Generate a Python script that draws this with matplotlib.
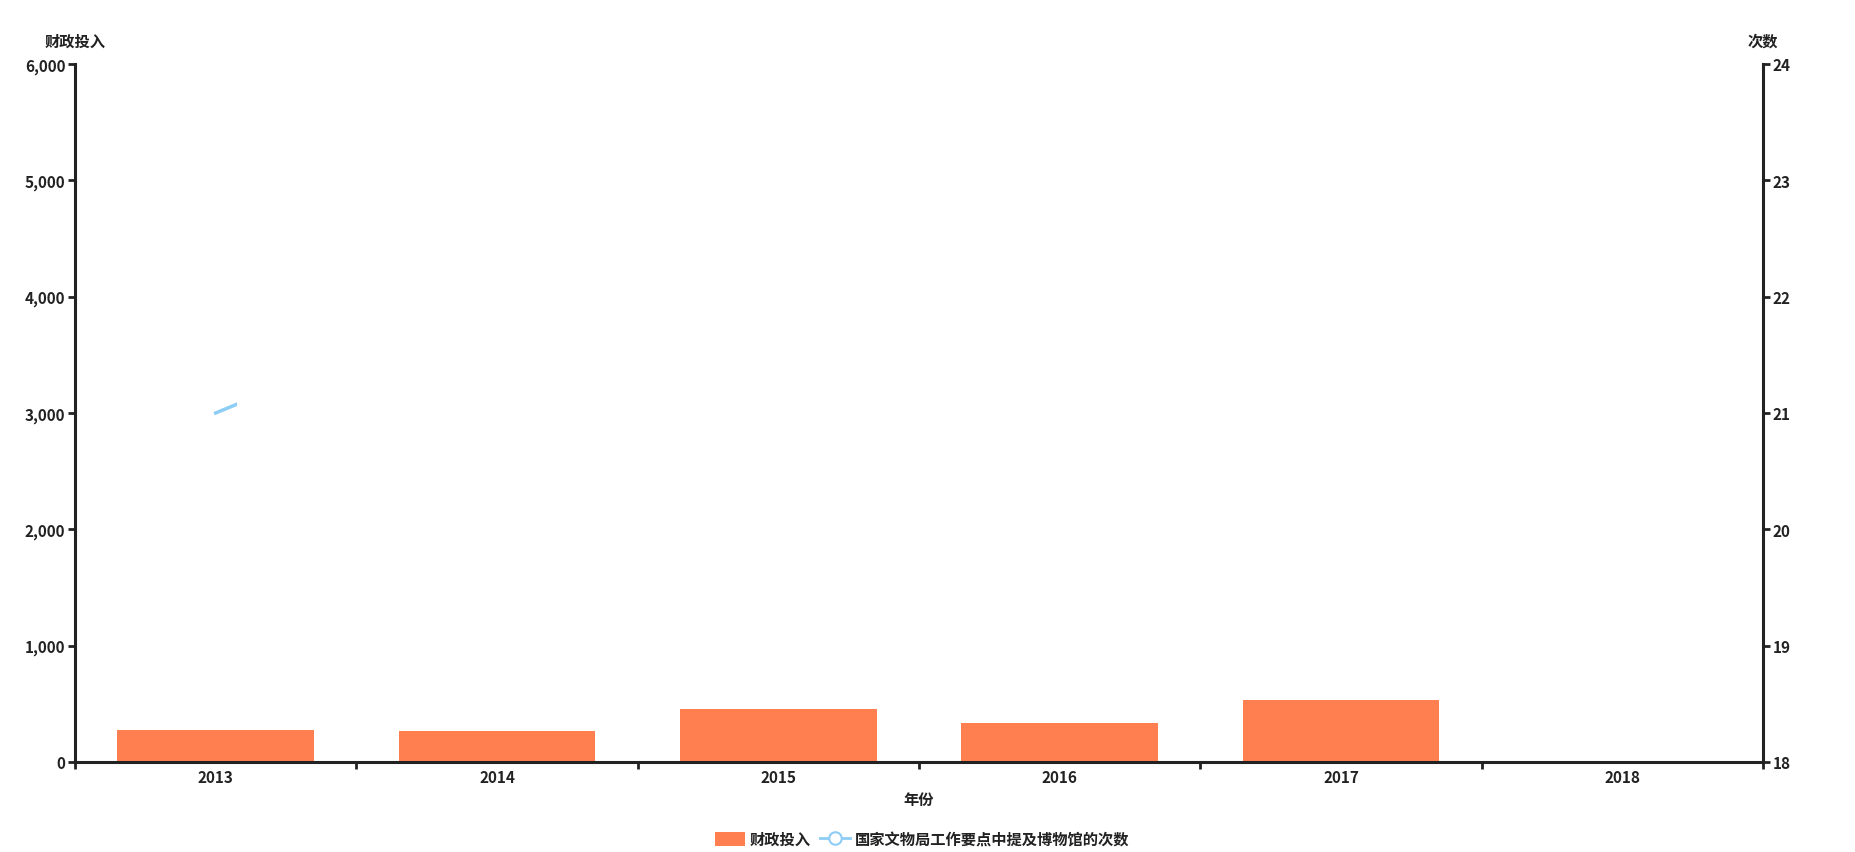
import matplotlib
matplotlib.use("Agg")
import matplotlib.pyplot as plt
from matplotlib.patches import Rectangle
from matplotlib.lines import Line2D
import matplotlib.ticker as mticker

plt.rcParams['font.family'] = ['Noto Sans CJK SC', 'DejaVu Sans']

years = ['2013', '2014', '2015', '2016', '2017', '2018']
funding = [272, 266, 458, 338, 530, 0]
# line series (only the first segment is partly drawn in the reference)
mentions = [21, 22, None, None, None, None]
line_visible_fraction = 0.075

bar_color = '#ff7f50'
line_color = '#8ecdf5'
axis_color = '#222222'
fs = 11

fig = plt.figure(figsize=(18.55, 8.53), dpi=100)
ax = fig.add_axes([75/1855, 90/853, (1763-75)/1855, (763-65)/853])
ax2 = ax.twinx()

x = list(range(len(years)))
ax.bar(x, funding, width=0.7, color=bar_color, zorder=2)
ax.set_xlim(-0.5, len(years) - 0.5)
ax.set_ylim(0, 6000)
ax.set_yticks(range(0, 6001, 1000))
ax.yaxis.set_major_formatter(mticker.FuncFormatter(lambda v, p: f'{int(v):,}'))
ax.set_xticks(x)
ax.set_xticklabels(years)
ax.set_xticks([i + 0.5 for i in range(-1, len(years))], minor=True)

ax2.set_ylim(18, 24)
ax2.set_yticks(range(18, 25))

xs = [i for i, v in enumerate(mentions) if v is not None]
ys = [v for v in mentions if v is not None]
ln, = ax2.plot(xs, ys, color=line_color, linewidth=2.5, zorder=3)
clip = Rectangle((-0.5, 18), 0.5 + line_visible_fraction, 6, transform=ax2.transData)
ln.set_clip_path(clip)

for a in (ax, ax2):
    for s in a.spines.values():
        s.set_visible(False)
    a.set_facecolor('none')
ax.spines['left'].set_visible(True)
ax.spines['bottom'].set_visible(True)
ax2.spines['right'].set_visible(True)
for s in (ax.spines['left'], ax.spines['bottom'], ax2.spines['right']):
    s.set_color(axis_color)
    s.set_linewidth(2.2)

ax.tick_params(axis='x', which='major', length=0, pad=5, labelsize=fs, colors=axis_color)
ax.tick_params(axis='x', which='minor', length=5, width=2, color=axis_color)
ax.tick_params(axis='y', length=5, width=2, pad=2, labelsize=fs, colors=axis_color)
ax2.tick_params(axis='y', length=5, width=2, pad=2, labelsize=fs, colors=axis_color)
for lab in ax.get_xticklabels() + ax.get_yticklabels() + ax2.get_yticklabels():
    lab.set_fontweight('bold')

fig.text(75/1855, 1 - 42/853, '财政投入', ha='center', va='center', fontsize=fs,
         fontweight='bold', color=axis_color)
fig.text(1763/1855, 1 - 42/853, '次数', ha='center', va='center', fontsize=fs,
         fontweight='bold', color=axis_color)
fig.text(919/1855, 1 - 800/853, '年份', ha='center', va='center', fontsize=fs,
         fontweight='bold', color=axis_color)

handles = [
    plt.Rectangle((0, 0), 1, 1, facecolor=bar_color, edgecolor='none'),
    Line2D([0], [0], color=line_color, linewidth=2, marker='o', markersize=9,
           markerfacecolor='white', markeredgecolor=line_color, markeredgewidth=1.5),
]
leg = fig.legend(handles, ['财政投入', '国家文物局工作要点中提及博物馆的次数'],
                 loc='center', bbox_to_anchor=(922/1855, 1 - 840/853), ncol=2,
                 frameon=False, fontsize=fs, handlelength=2.0, handleheight=1.0,
                 columnspacing=0.6, handletextpad=0.3)
for t in leg.get_texts():
    t.set_fontweight('bold')
    t.set_color(axis_color)

fig.savefig('out.png', dpi=100)
